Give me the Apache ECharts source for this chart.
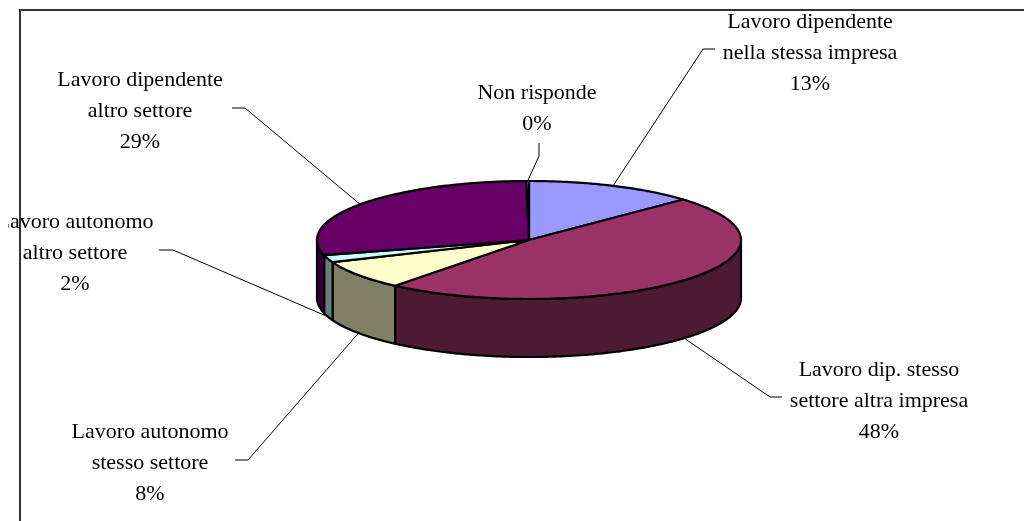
<!DOCTYPE html>
<html>
<head>
<meta charset="utf-8">
<script src="https://cdn.jsdelivr.net/npm/echarts@6/dist/echarts.min.js"></script>
<style>
html, body { margin: 0; padding: 0; background: #fff; }
#main { width: 1024px; height: 521px; }
</style>
</head>
<body>
<div id="main"></div>
<script>
var categories = ['Lavoro dipendente\nnella stessa impresa', 'Lavoro dip. stesso\nsettore altra impresa',
    'Lavoro autonomo\nstesso settore', 'Lavoro autonomo\naltro settore',
    'Lavoro dipendente\naltro settore', 'Non risponde'];
var values = [13, 48, 8, 2, 29, 0.2];

var topColors = ['#9999FF', '#993366', '#FFFFCC', '#CCFFFF', '#660066', '#FF8080'];
var sideColors = ['#4D4D80', '#4D1A33', '#808066', '#668080', '#330033', '#804040'];

// label block centres and leader line start / elbow (pixels)
var labelPos = [[810, 53], [879, 401], [150, 463], [75, 253], [140, 111], [537, 109]];
var leaderStart = [[715, 49], [782, 397], [235, 460], [159, 250], [232, 108], [539, 143]];
var leaderElbow = [[703, 49], [770, 397], [248, 460], [173, 250], [245, 108], [539, 156]];

// ellipse of the pie top face
var CX = 529, CY = 240, RX = 212, RY = 59, DEPTH = 58;

var total = 0;
for (var i = 0; i < values.length; i++) total += values[i];
var startAngle = [];
var acc = 0;
for (var i = 0; i < values.length; i++) {
    startAngle.push(acc / total * Math.PI * 2);
    acc += values[i];
}

function arcPts(a0, a1, dy) {
    var pts = [];
    var n = Math.max(2, Math.ceil(Math.abs(a1 - a0) / 0.01));
    for (var k = 0; k <= n; k++) {
        var a = a0 + (a1 - a0) * k / n;
        pts.push([CX + RX * Math.sin(a), CY - RY * Math.cos(a) + dy]);
    }
    return pts;
}

function sliceAngles(idx, api) {
    var a0 = startAngle[idx];
    return [a0, a0 + api.value(0) / total * Math.PI * 2];
}

var chart = echarts.init(document.getElementById('main'));

var option = {
    animation: false,
    graphic: [
        {
            type: 'polyline', z: 100,
            shape: { points: [[20, 521], [20, 10], [1024, 10]] },
            style: { stroke: '#333', lineWidth: 2, fill: null }
        },
        {
            type: 'rect', z: 100,
            shape: { x: 0, y: 200, width: 8, height: 40 },
            style: { fill: '#fff' }
        }
    ],
    series: [
        {
            name: 'sides',
            type: 'custom',
            coordinateSystem: 'none',
            z: 1,
            data: values.map(function (v) { return [v]; }),
            renderItem: function (params, api) {
                var a = sliceAngles(params.dataIndex, api);
                var s = Math.max(a[0], Math.PI / 2);
                var e = Math.min(a[1], Math.PI * 1.5);
                if (s >= e) return { type: 'group', children: [] };
                var pts = arcPts(s, e, 0).concat(arcPts(e, s, DEPTH));
                return {
                    type: 'polygon',
                    shape: { points: pts },
                    style: { fill: sideColors[params.dataIndex], stroke: '#000', lineWidth: 2.2, lineJoin: 'round' }
                };
            }
        },
        {
            name: 'tops',
            type: 'custom',
            coordinateSystem: 'none',
            z: 2,
            data: values.map(function (v) { return [v]; }),
            renderItem: function (params, api) {
                var a = sliceAngles(params.dataIndex, api);
                var pts = [[CX, CY]].concat(arcPts(a[0], a[1], 0));
                return {
                    type: 'polygon',
                    shape: { points: pts },
                    style: { fill: topColors[params.dataIndex], stroke: '#000', lineWidth: 2.2, lineJoin: 'round' }
                };
            }
        },
        {
            name: 'labels',
            type: 'custom',
            coordinateSystem: 'none',
            z: 3,
            data: values.map(function (v) { return [v]; }),
            renderItem: function (params, api) {
                var i = params.dataIndex;
                var a = sliceAngles(i, api);
                var mid = (a[0] + a[1]) / 2;
                var dy = Math.cos(mid) < 0 ? DEPTH : 0;
                var end = [CX + RX * Math.sin(mid), CY - RY * Math.cos(mid) + dy];
                var pct = Math.round(api.value(0) / total * 100) + '%';
                return {
                    type: 'group',
                    children: [
                        {
                            type: 'polyline',
                            shape: { points: [leaderStart[i], leaderElbow[i], end] },
                            style: { stroke: '#000', lineWidth: 1, fill: null }
                        },
                        {
                            type: 'text',
                            style: {
                                text: categories[i] + '\n' + pct,
                                x: labelPos[i][0], y: labelPos[i][1],
                                align: 'center', verticalAlign: 'middle',
                                fontFamily: '"Liberation Serif", "Times New Roman", serif',
                                fontSize: 22, lineHeight: 31, fill: '#000'
                            }
                        }
                    ]
                };
            }
        }
    ]
};

chart.setOption(option);
</script>
</body>
</html>
